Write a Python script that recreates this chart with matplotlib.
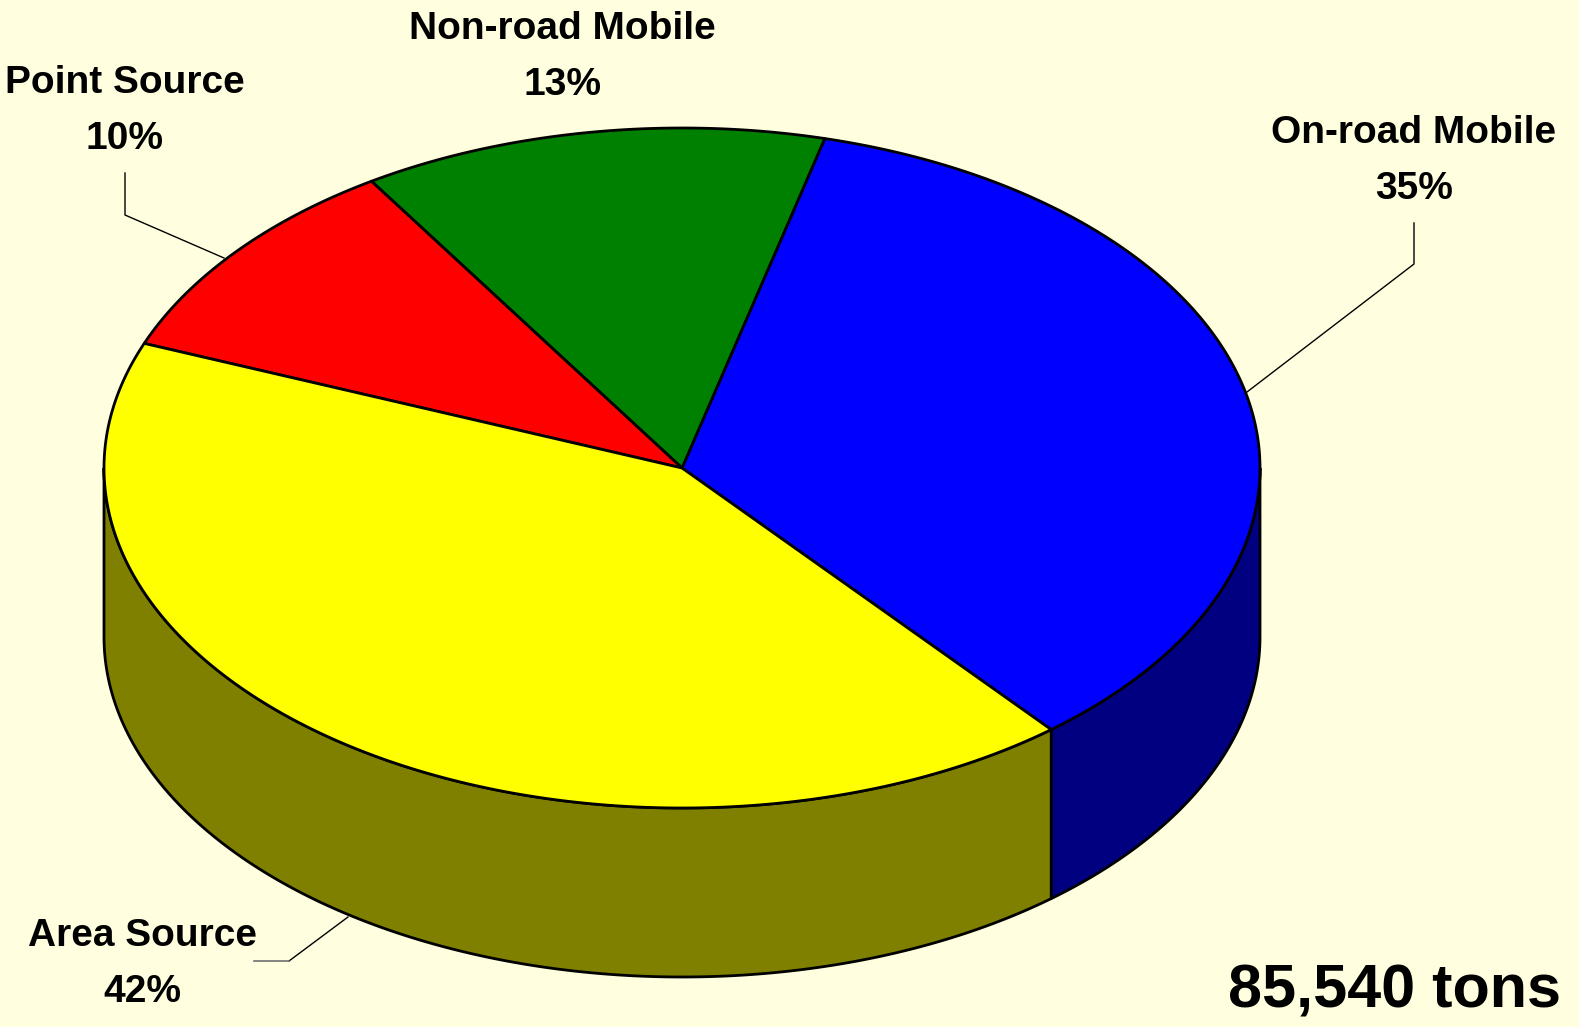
"""3D-style pie: emission sources share of 85,540 tons."""

import matplotlib.pyplot as plt
import numpy as np
from matplotlib.patches import Polygon

BG = "#FFFFE0"

categories = ["On-road Mobile", "Non-road Mobile", "Point Source", "Area Source"]
shares = [35, 13, 10, 42]
top_colors = ["#0000FF", "#008000", "#FF0000", "#FFFF00"]
side_colors = ["#000080", "#004000", "#800000", "#808000"]
total_label = "85,540 tons"

# label anchor positions (pixel coords, y down)
label_pos = {
    "On-road Mobile": (1414, 161),
    "Non-road Mobile": (562, 57),
    "Point Source": (125, 111),
    "Area Source": (142, 964),
}
leaders = {
    "On-road Mobile": [(1414, 223), (1414, 264), (1247, 392)],
    "Point Source": [(125, 173), (125, 215), (224, 258)],
    "Area Source": [(348, 917), (289, 961)],
}

CX, CY, RX, RY, DEPTH = 682, 468, 578, 340, 169
START = -50.3


def ellipse_pts(t0, t1, dy=0.0, n=200):
    t = np.radians(np.linspace(t0, t1, n))
    return np.column_stack([CX + RX * np.cos(t), CY - RY * np.sin(t) + dy])


def main() -> None:
    plt.rcParams["font.family"] = ["Liberation Sans", "DejaVu Sans"]
    fig = plt.figure(figsize=(15.79, 10.27), dpi=100, facecolor=BG)
    ax = fig.add_axes([0, 0, 1, 1])
    ax.set_xlim(0, 1579)
    ax.set_ylim(1027, 0)
    ax.axis("off")
    ax.set_facecolor(BG)

    fracs = np.array(shares, dtype=float) / sum(shares)
    bounds = START + np.concatenate([[0], np.cumsum(fracs) * 360])

    # side walls (front half only: 180..360 deg)
    for i in range(len(shares)):
        a0, a1 = bounds[i], bounds[i + 1]
        for lo, hi in [(-180, 0), (180, 360)]:
            s0, s1 = max(a0, lo), min(a1, hi)
            if s1 <= s0:
                continue
            top = ellipse_pts(s0, s1)
            bot = ellipse_pts(s0, s1, dy=DEPTH)[::-1]
            ax.add_patch(Polygon(np.vstack([top, bot]), closed=True,
                                 facecolor=side_colors[i], edgecolor="black",
                                 linewidth=2, joinstyle="round"))

    # top faces
    for i in range(len(shares)):
        arc = ellipse_pts(bounds[i], bounds[i + 1])
        pts = np.vstack([[CX, CY], arc])
        ax.add_patch(Polygon(pts, closed=True, facecolor=top_colors[i],
                             edgecolor="black", linewidth=2, joinstyle="round"))

    for name, share in zip(categories, shares):
        x, y = label_pos[name]
        ax.text(x, y, f"{name}\n{share}%", ha="center", va="center",
                fontsize=28, fontweight="bold", linespacing=1.72)
        if name in leaders:
            xs, ys = zip(*leaders[name])
            ax.plot(xs, ys, color="black", linewidth=1)
    ax.plot([289, 254], [961, 961], color="#707070", linewidth=1.2)

    ax.text(1395, 992, total_label, ha="center", va="center",
            fontsize=44, fontweight="bold")

    fig.savefig("out.png", dpi=100, facecolor=BG)
    plt.close(fig)


if __name__ == "__main__":
    main()
